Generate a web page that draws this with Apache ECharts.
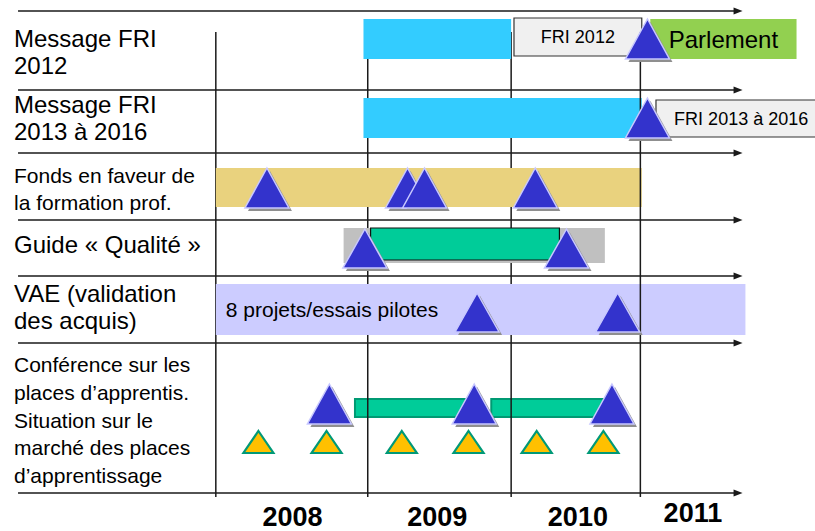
<!DOCTYPE html>
<html>
<head>
<meta charset="utf-8">
<style>
  html, body { margin: 0; padding: 0; background: #fff; }
  #chart { width: 815px; height: 531px; }
</style>
<script src="https://cdn.jsdelivr.net/npm/echarts@6/dist/echarts.min.js"></script>
</head>
<body>
<div id="chart"></div>
<script>
// ---- data (x values in decimal years) ----
const rowLabels = [
  "Message FRI\n2012",
  "Message FRI\n2013 à 2016",
  "Fonds en faveur de\nla formation prof.",
  "Guide « Qualité »",
  "VAE (validation\ndes acquis)",
  "Conférence sur les\nplaces d’apprentis.\nSituation sur le\nmarché des places\nd’apprentissage"
];
const yearLabels = ["2008", "2009", "2010", "2011"];
const yearLabelAt = [2008.54, 2009.56, 2010.55, 2011.36];
const dividers = [2008.0, 2009.07, 2010.08, 2010.99];

// [row, start, end]
const messageBars = [[0, 2009.04, 2010.08], [1, 2009.04, 2011.0]];
const fondsBars = [[2, 2008.0, 2011.0]];
const qualityBack = [[3, 2008.9, 2010.74]];
const qualityBars = [[3, 2009.09, 2010.42]];
const vaeBars = [[4, 2008.0, 2011.73]];
const vaeTexts = ["8 projets/essais pilotes"];
const conferenceBars = [[5, 2008.98, 2009.79], [5, 2009.94, 2010.74]];
const friBoxes = [[0, 2010.10, 2011.0], [1, 2011.10, 2012.3]];
const friTexts = ["FRI 2012", "FRI 2013 à 2016"];
const parlementBars = [[0, 2011.06, 2012.09]];
const parlementTexts = ["Parlement"];

// [row, date]
const milestones = [
  [0, 2011.04], [1, 2011.04],
  [2, 2008.36], [2, 2009.35], [2, 2009.47], [2, 2010.25],
  [3, 2009.05], [3, 2010.47],
  [4, 2009.84], [4, 2010.83],
  [5, 2008.80], [5, 2009.82], [5, 2010.79]
];
const marketReports = [2008.30, 2008.78, 2009.31, 2009.78, 2010.26, 2010.73];

// ---- layout (vertical positions on the hidden y axis, 0 = top) ----
const rowEdges = [11, 90, 153, 220, 276, 343, 493];
const barLane = [[19, 59], [98, 138], [168, 207], [228, 263], [284, 335], [399, 417]];
const boxLane = [[18, 56], [100, 137]];
const qualityLane = [228, 260];
const markLane = [[19, 59], [98, 138], [168, 208], [229, 268], [293, 332], [384, 424]];
const smallLane = [431, 453];
const labelMid = [52, 118, 189, 244, 307, 420];
const labelSize = [24, 24, 21, 24, 24, 21];
const yearMid = [517, 517, 517, 513];

const FONT = "'Liberation Sans', Arial, Helvetica, sans-serif";
const LINE = "#1a1a1a";

function txt(x, y, text, o) {
  return {
    type: "text", x, y,
    style: {
      text, fill: "#000", fontFamily: FONT,
      fontSize: o.size, fontWeight: o.weight || "normal",
      align: o.align || "left", textAlign: o.align || "left",
      verticalAlign: "middle", textVerticalAlign: "middle",
      lineHeight: o.lineHeight || o.size
    }
  };
}

function bars(data, laneOf, style, z, texts, textOpt) {
  return {
    type: "custom", z, silent: true, data,
    renderItem(params, api) {
      const lane = laneOf(api.value(0));
      const a = api.coord([api.value(1), lane[0]]);
      const b = api.coord([api.value(2), lane[1]]);
      const shape = { x: a[0], y: a[1], width: b[0] - a[0], height: b[1] - a[1] };
      const rect = { type: "rect", shape, style };
      if (!texts) return rect;
      const tx = textOpt.align === "left" ? shape.x + textOpt.pad : shape.x + shape.width / 2;
      return {
        type: "group",
        children: [rect, txt(tx, shape.y + shape.height / 2, texts[params.dataIndex], textOpt)]
      };
    }
  };
}

function triangles(data, laneOf, opt, z) {
  return {
    type: "custom", z, silent: true, data,
    renderItem(params, api) {
      const lane = laneOf(api.value(0));
      const top = api.coord([api.value(1), lane[0]]);
      const bot = api.coord([api.value(1), lane[1]]);
      const h = opt.half;
      const pts = [[top[0], top[1]], [top[0] + h, bot[1]], [top[0] - h, bot[1]]];
      const children = [];
      if (opt.shadow) {
        children.push({
          type: "polygon",
          shape: { points: pts.map(p => [p[0] + 3, p[1] + 3]) },
          style: { fill: opt.shadow }
        });
      }
      children.push({
        type: "polygon", shape: { points: pts },
        style: { fill: opt.fill, stroke: opt.stroke, lineWidth: opt.lw, lineJoin: "miter" }
      });
      return { type: "group", children };
    }
  };
}

function dividerSeries(data, z) {
  return {
    type: "custom", z, silent: true,
    data: data.map(v => [v]),
    renderItem(params, api) {
      const a = api.coord([api.value(0), 32]);
      const b = api.coord([api.value(0), 497]);
      return {
        type: "line",
        shape: { x1: a[0], y1: a[1], x2: b[0], y2: b[1] },
        style: { stroke: LINE, lineWidth: 1.5 }
      };
    }
  };
}

const chart = echarts.init(document.getElementById("chart"), null, { renderer: "svg" });

const option = {
  animation: false,
  grid: { left: 0, right: 0, top: 0, bottom: 0 },
  xAxis: { type: "value", min: 2006.48, max: 2012.22, show: false },
  yAxis: { type: "value", min: 0, max: 531, inverse: true, show: false },
  series: [
    // row separators with arrow heads
    {
      type: "custom", z: 1, silent: true,
      data: rowEdges.map(y => [y]),
      renderItem(params, api) {
        const y = api.value(0);
        const a = api.coord([2006.607, y]);
        const b = api.coord([2011.71, y]);
        return {
          type: "group",
          children: [
            { type: "line", shape: { x1: a[0], y1: a[1], x2: b[0] - 6, y2: b[1] },
              style: { stroke: LINE, lineWidth: 1.5 } },
            { type: "polygon",
              shape: { points: [[b[0] - 9, b[1] - 3.5], [b[0], b[1]], [b[0] - 9, b[1] + 3.5]] },
              style: { fill: LINE } }
          ]
        };
      }
    },
    bars(conferenceBars, r => barLane[r], { fill: "#00CC99", stroke: "#009A73", lineWidth: 2 }, 2),
    dividerSeries(dividers.slice(0, 3), 3),
    bars(messageBars, r => barLane[r], { fill: "#33CCFF" }, 4),
    bars(fondsBars, r => barLane[r], { fill: "#E9D27E" }, 4),
    bars(vaeBars, r => barLane[r], { fill: "#CCCCFF" }, 4, vaeTexts, { size: 21, align: "left", pad: 10 }),
    bars(qualityBack, r => barLane[r], { fill: "#C0C0C0" }, 4),
    bars(qualityBars, () => qualityLane, { fill: "#00CC99", stroke: "#111", lineWidth: 1.2 }, 5),
    bars(friBoxes, r => boxLane[r], { fill: "#F0F0F0", stroke: "#333", lineWidth: 1.2 }, 5, friTexts, { size: 18, align: "center" }),
    bars(parlementBars, r => barLane[r], { fill: "#92D050" }, 5, parlementTexts, { size: 24, align: "center" }),
    dividerSeries(dividers.slice(3), 6),
    triangles(milestones, r => markLane[r],
      { half: 22, fill: "#3333CC", stroke: "#C8C8FF", lw: 1.5, shadow: "#8F8F8F" }, 7),
    triangles(marketReports.map(v => [5, v]), () => smallLane,
      { half: 15, fill: "#FFC000", stroke: "#009977", lw: 2.2 }, 7),
    // row labels
    {
      type: "custom", z: 8, silent: true,
      data: rowLabels.map((t, i) => [i]),
      renderItem(params, api) {
        const i = params.dataIndex;
        const p = api.coord([2008, labelMid[i]]);
        return txt(params.coordSys.x + 14, p[1], rowLabels[i],
          { size: labelSize[i], lineHeight: labelSize[i] === 21 ? 27.7 : 27 });
      }
    },
    // year labels
    {
      type: "custom", z: 8, silent: true,
      data: yearLabelAt.map(v => [v]),
      renderItem(params, api) {
        const i = params.dataIndex;
        const p = api.coord([api.value(0), yearMid[i]]);
        return txt(p[0], p[1], yearLabels[i], { size: 27, weight: "bold", align: "center" });
      }
    }
  ]
};

chart.setOption(option);
</script>
</body>
</html>
